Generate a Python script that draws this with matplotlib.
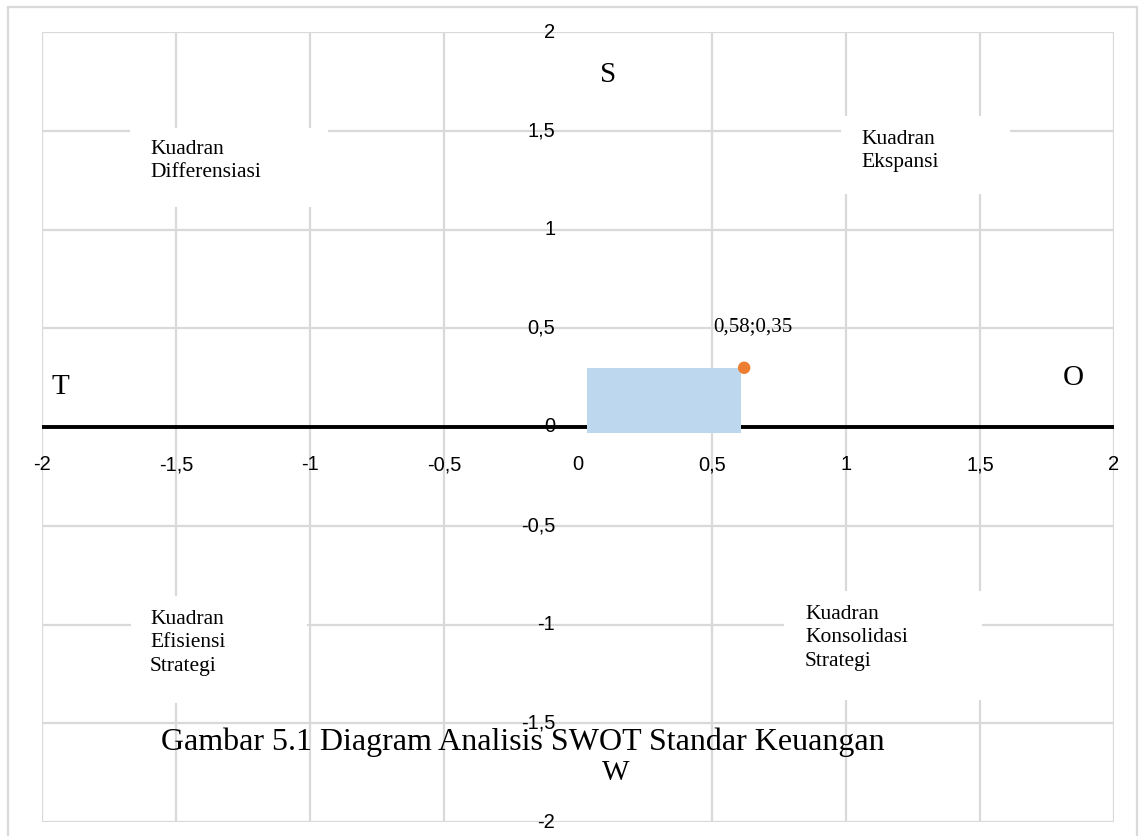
import matplotlib
matplotlib.use("Agg")
import matplotlib.pyplot as plt
from matplotlib.patches import Rectangle

# ---- data ----
tick_vals = [-2, -1.5, -1, -0.5, 0, 0.5, 1, 1.5, 2]
x_tick_labels = ["-2", "-1,5", "-1", "-0,5", "0", "0,5", "1", "1,5", "2"]
y_tick_labels = ["-2", "-1,5", "-1", "-0,5", "0", "0,5", "1", "1,5", "2"]
point_x = [0.62]
point_y = [0.30]
point_label = "0,58;0,35"
bar_x0, bar_x1 = 0.034, 0.608
bar_y0, bar_y1 = -0.03, 0.30
quadrant_texts = ["Kuadran\nDifferensiasi", "Kuadran\nEkspansi",
                  "Kuadran\nEfisiensi\nStrategi", "Kuadran\nKonsolidasi\nStrategi"]
direction_letters = ["S", "T", "O", "W"]
caption = "Gambar 5.1 Diagram Analisis SWOT Standar Keuangan"

W, H = 1141, 836
fig = plt.figure(figsize=(W / 100, H / 100), dpi=100)
ax = fig.add_axes([42 / W, 1 - 822 / H, (1114 - 42) / W, (822 - 32) / H])
ax.set_xlim(-2, 2)
ax.set_ylim(-2, 2)
ax.set_xticks([])
ax.set_yticks([])
for s in ax.spines.values():
    s.set_visible(False)

grid_c = "#d9d9d9"
for v in tick_vals:
    if v != 0:
        ax.axvline(v, color=grid_c, lw=1.6, zorder=1)
    ax.axhline(v, color=grid_c, lw=1.6, zorder=1)

# outer figure border
fig.patches.append(Rectangle((8 / W, -0.01), (1137 - 8) / W, 1.01 - 7 / H,
                             transform=fig.transFigure, fill=False,
                             edgecolor=grid_c, lw=1.6))

# white boxes hiding grid behind quadrant texts
boxes = [(-1.672, 1.114, 0.739, 0.400), (0.981, 1.180, 0.631, 0.395),
         (-1.668, -1.397, 0.657, 0.541), (0.769, -1.382, 0.738, 0.552)]
for (bx, by, bw, bh) in boxes:
    ax.add_patch(Rectangle((bx, by), bw, bh, facecolor="white", edgecolor="none", zorder=2))

# horizontal axis line
ax.plot([-2, 2], [0, 0], color="black", lw=2.8, zorder=3, solid_capstyle="butt")

# blue rectangle
ax.add_patch(Rectangle((bar_x0, bar_y0), bar_x1 - bar_x0, bar_y1 - bar_y0,
                       facecolor="#bdd7ee", edgecolor="none", zorder=4))
ax.scatter(point_x, point_y, s=80, color="#ed7d31", zorder=5, edgecolors="none")

serif = "Liberation Serif"
sans = "Liberation Sans"
ax.text(0.653, 0.506, point_label, family=serif, fontsize=15, ha="center", va="center", zorder=6)

# tick labels
for v, lab in zip(tick_vals, x_tick_labels):
    ax.text(v, -0.19, lab, family=sans, fontsize=14.5, ha="center", va="center", zorder=6)
for v, lab in zip(tick_vals, y_tick_labels):
    ax.text(-0.085, v, lab, family=sans, fontsize=14.5, ha="right", va="center", zorder=6)

# quadrant texts
qpos = [(-1.597, 1.455), (1.056, 1.506), (-1.597, -0.925), (0.847, -0.899)]
for (qx, qy), t in zip(qpos, quadrant_texts):
    ax.text(qx, qy, t, family=serif, fontsize=15.5, ha="left", va="top",
            linespacing=1.32, zorder=6)

lpos = [(0.112, 1.782), (-1.933, 0.203), (1.847, 0.248), (0.142, -1.752)]
for (lx, ly), t in zip(lpos, direction_letters):
    ax.text(lx, ly, t, family=serif, fontsize=21, ha="center", va="center", zorder=6)

ax.text(-0.205, -1.595, caption, family=serif, fontsize=23, ha="center", va="center", zorder=6)

fig.savefig("out.png", dpi=100)
